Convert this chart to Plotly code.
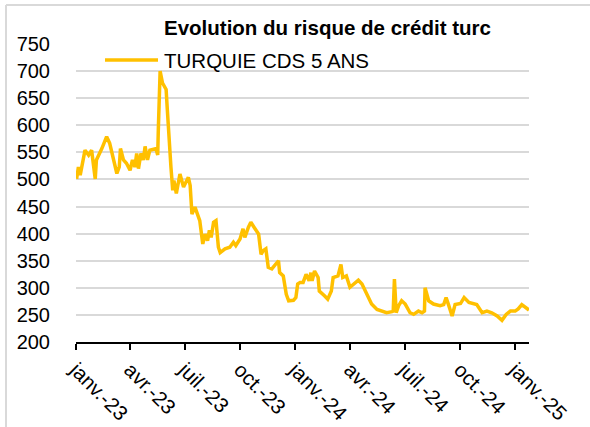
import plotly.graph_objects as go

# Turkey 5Y CDS (bp)
dates = [
    "2023-01-02", "2023-01-05", "2023-01-08", "2023-01-16", "2023-01-22", "2023-01-27",
    "2023-02-02", "2023-02-04", "2023-02-13", "2023-02-18", "2023-02-21", "2023-02-26",
    "2023-03-01", "2023-03-05", "2023-03-10", "2023-03-14", "2023-03-16", "2023-03-21",
    "2023-03-26", "2023-04-01", "2023-04-05", "2023-04-09", "2023-04-12", "2023-04-15",
    "2023-04-19", "2023-04-23", "2023-04-26", "2023-04-30", "2023-05-04", "2023-05-14",
    "2023-05-17", "2023-05-18", "2023-05-21", "2023-05-25", "2023-05-31", "2023-06-02",
    "2023-06-05", "2023-06-08", "2023-06-11", "2023-06-13", "2023-06-17", "2023-06-23",
    "2023-06-29", "2023-07-07", "2023-07-10", "2023-07-13", "2023-07-18", "2023-07-22",
    "2023-07-26", "2023-07-31", "2023-08-04", "2023-08-08", "2023-08-11", "2023-08-14",
    "2023-08-18", "2023-08-22", "2023-08-26", "2023-08-29", "2023-09-06", "2023-09-14",
    "2023-09-20", "2023-09-24", "2023-10-01", "2023-10-06", "2023-10-09", "2023-10-15",
    "2023-10-19", "2023-10-26", "2023-11-01", "2023-11-05", "2023-11-09", "2023-11-13",
    "2023-11-17", "2023-11-23", "2023-12-04", "2023-12-06", "2023-12-12", "2023-12-17",
    "2023-12-21", "2023-12-29", "2024-01-02", "2024-01-05", "2024-01-09", "2024-01-14",
    "2024-01-19", "2024-01-24", "2024-01-27", "2024-01-29", "2024-02-02", "2024-02-08",
    "2024-02-10", "2024-02-19", "2024-02-24", "2024-03-01", "2024-03-04", "2024-03-12",
    "2024-03-17", "2024-03-20", "2024-03-26", "2024-04-01", "2024-04-08", "2024-04-15",
    "2024-04-21", "2024-04-29", "2024-05-07", "2024-05-16", "2024-05-24", "2024-06-01",
    "2024-06-10", "2024-06-12", "2024-06-14", "2024-06-17", "2024-06-21", "2024-06-26",
    "2024-07-02", "2024-07-10", "2024-07-16", "2024-07-24", "2024-07-30", "2024-08-03",
    "2024-08-04", "2024-08-10", "2024-08-18", "2024-08-29", "2024-09-04", "2024-09-08",
    "2024-09-12", "2024-09-18", "2024-09-23", "2024-10-02", "2024-10-08", "2024-10-16",
    "2024-10-29", "2024-11-07", "2024-11-15", "2024-11-23", "2024-12-02", "2024-12-10",
    "2024-12-17", "2024-12-24", "2025-01-01", "2025-01-06", "2025-01-12", "2025-01-18",
    "2025-01-24",
]
cds = [
    501, 523, 508, 554, 545, 554,
    501, 536, 557, 570, 579, 567,
    554, 536, 511, 523, 557, 536,
    530, 517, 536, 523, 548, 520,
    548, 536, 561, 536, 554, 557,
    545, 591, 700, 678, 666, 629,
    567, 523, 480, 498, 474, 510,
    486, 504, 489, 436, 449, 436,
    424, 381, 399, 387, 406, 393,
    421, 424, 375, 365, 372, 375,
    384, 378, 390, 409, 393, 412,
    421, 409, 399, 362, 369, 372,
    338, 335, 350, 328, 322, 288,
    276, 277, 282, 307, 310, 310,
    325, 313, 328, 313, 331, 319,
    294, 285, 279, 294, 319, 322,
    343, 319, 322, 301, 307, 314,
    307, 288, 270, 260, 257, 254,
    256, 257, 316, 254, 267, 276,
    270, 254, 251, 257, 254, 257,
    300, 276, 270, 267, 269, 282,
    269, 248, 269, 271, 282, 273,
    269, 254, 257, 254, 248, 240,
    251, 257, 257, 261, 269, 263,
    259,
]

tick_dates = ["2023-01-01", "2023-04-01", "2023-07-01", "2023-10-01", "2024-01-01",
              "2024-04-01", "2024-07-01", "2024-10-01", "2025-01-01"]
tick_labels = ["janv.-23", "avr.-23", "juil.-23", "oct.-23", "janv.-24",
               "avr.-24", "juil.-24", "oct.-24", "janv.-25"]
y_ticks = list(range(200, 751, 50))

GOLD = "#FFC000"
FONT = "Liberation Sans, Arial, sans-serif"

fig = go.Figure()
fig.add_trace(go.Scatter(x=dates, y=cds, mode="lines", name="TURQUIE CDS 5 ANS",
                         line=dict(color=GOLD, width=3.5), showlegend=False))

# plot area: x 76..529, y 44..342 (px)
W, H = 590, 427
L, R, T, B = 76, 529, 44, 342
pw, ph = R - L, B - T
def px_x(x):
    return (x - L) / pw
def px_y(y):
    return (B - y) / ph

fig.update_layout(
    width=W, height=H,
    margin=dict(l=L, r=W - R, t=T, b=H - B, autoexpand=False),
    paper_bgcolor="white", plot_bgcolor="white",
    font=dict(family=FONT, color="#000000", size=20),
    xaxis=dict(
        type="date", range=["2023-01-01", "2025-01-24"],
        tickvals=tick_dates, ticktext=tick_labels, tickangle=45,
        ticks="outside", ticklen=6, tickwidth=1.5, tickcolor="#000000",
        showline=True, linecolor="#000000", linewidth=1.5,
        showgrid=False, zeroline=False, automargin=False,
        tickfont=dict(size=20.5),
    ),
    yaxis=dict(
        range=[200, 750], tickvals=y_ticks,
        showgrid=True, gridcolor="#d9d9d9", gridwidth=1.5,
        showline=False, zeroline=False, ticks="", automargin=False,
        ticklabelstandoff=25,
        tickfont=dict(size=20),
    ),
    shapes=[
        # chart border (left/top)
        dict(type="line", xref="paper", yref="paper", x0=px_x(6), x1=px_x(6),
             y0=px_y(427), y1=px_y(5), line=dict(color="#d9d9d9", width=2)),
        dict(type="line", xref="paper", yref="paper", x0=px_x(6), x1=px_x(600),
             y0=px_y(5), y1=px_y(5), line=dict(color="#d9d9d9", width=2)),
        # legend sample line
        dict(type="line", xref="paper", yref="paper", x0=px_x(105), x1=px_x(158),
             y0=px_y(60), y1=px_y(60), line=dict(color=GOLD, width=3.5)),
    ],
    annotations=[
        dict(text="<b>Evolution du risque de crédit turc</b>", xref="paper", yref="paper",
             x=px_x(327), y=px_y(27), xanchor="center", yanchor="middle",
             showarrow=False, font=dict(size=20.5, family=FONT, color="#000000")),
        dict(text="TURQUIE CDS 5 ANS", xref="paper", yref="paper",
             x=px_x(162), y=px_y(60), xanchor="left", yanchor="middle",
             showarrow=False, font=dict(size=20.5, family=FONT, color="#000000")),
    ],
)

# the page body has a default 8px margin; drop it so the figure fills the window
fig.write_html("out.html", config={"displayModeBar": False},
               post_script="document.body.style.margin = '0';")
